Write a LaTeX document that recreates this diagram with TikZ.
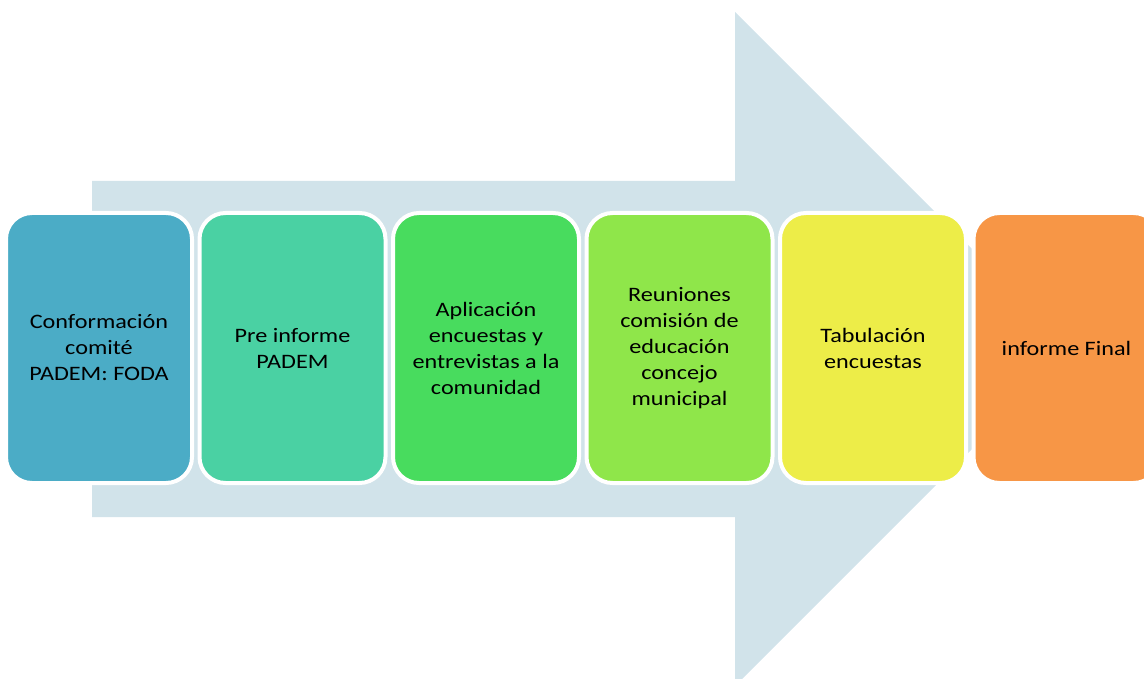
\documentclass[tikz,border=0pt]{standalone}
\usepackage{fontspec}
\setmainfont{Carlito}[FakeStretch=1.18]
\usepackage{tikz, xcolor}

\definecolor{arrowbg}{HTML}{D1E3EA}
\definecolor{stepa}{HTML}{4BACC6}
\definecolor{stepb}{HTML}{4AD1A3}
\definecolor{stepc}{HTML}{48DC5E}
\definecolor{stepd}{HTML}{8FE64A}
\definecolor{stepe}{HTML}{EDED48}
\definecolor{stepf}{HTML}{F79646}

\begin{document}
\begin{tikzpicture}[x=1pt, y=-1pt,
    stepbox/.style={rounded corners=26pt, draw=white, line width=4pt,
      minimum width=186pt, minimum height=270pt, inner sep=0pt,
      align=center, font=\fontsize{20.5}{26}\selectfont}]
    \useasboundingbox (0, 0) rectangle (1144, 679);
    \clip (0, 0) rectangle (1144, 679);

    \fill [arrowbg] (92, 181) -- (735, 181) -- (735, 12) -- (1072, 349)
      -- (735, 686) -- (735, 517) -- (92, 517) -- cycle;

    \foreach \c/\txt [count=\i] in {
      stepa/{Conformación\\comité\\PADEM: FODA},
      stepb/{Pre informe\\PADEM},
      stepc/{Aplicación\\encuestas y\\entrevistas a la\\comunidad},
      stepd/{Reuniones\\comisión de\\educación\\concejo\\municipal},
      stepe/{Tabulación\\encuestas},
      stepf/{informe Final}}
    {
      \node [stepbox, fill=\c] (s\i) at ({99 + 193.5*(\i - 1)}, 348) {\txt};
    }
  \end{tikzpicture}
\end{document}
